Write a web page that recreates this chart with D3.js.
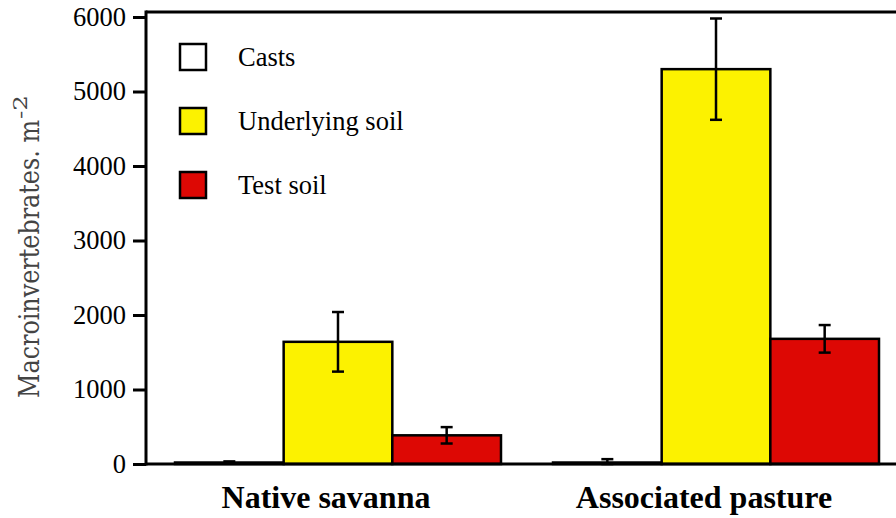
<!DOCTYPE html>
<html>
<head>
<meta charset="utf-8">
<script src="https://cdn.jsdelivr.net/npm/d3@7"></script>
<style>
  body { margin: 0; background: #fff; }
  svg { display: block; }
</style>
</head>
<body>
<svg id="canvas" width="896" height="518"></svg>
<script>
var groups = ["Native savanna", "Associated pasture"];
var series = ["Casts", "Underlying soil", "Test soil"];
var colors = ["#ffffff", "#fcf200", "#dd0804"];
// mean values, per group, in series order
var means = [
  [20, 1640, 385],
  [20, 5300, 1680]
];
var errors = [
  [15, 400, 110],
  [45, 680, 185]
];
var yTicks = [0, 1000, 2000, 3000, 4000, 5000, 6000];

var svg = d3.select("#canvas");
var serif = "'Liberation Serif', 'Times New Roman', serif";

var axisX = 146, axisY = 464, frameTop = 12;

var x0 = d3.scaleBand()
    .domain(groups)
    .range([axisX, 908])
    .paddingInner(0.1376)
    .paddingOuter(0.0767);

var x1 = d3.scaleBand()
    .domain(series)
    .range([0, x0.bandwidth()]);

var y = d3.scaleLinear()
    .domain([0, 6000])
    .range([axisY, 17]);

// bars
for (var g = 0; g < groups.length; g++) {
    var gx = x0(groups[g]);
    for (var s = 0; s < series.length; s++) {
        var v = means[g][s];
        var bx = gx + x1(series[s]);
        svg.append("rect")
            .attr("x", bx)
            .attr("y", y(v))
            .attr("width", x1.bandwidth())
            .attr("height", y(0) - y(v))
            .attr("fill", colors[s])
            .attr("stroke", "#000")
            .attr("stroke-width", 2.5);

        var cx = bx + x1.bandwidth() / 2;
        var e = errors[g][s];
        var eb = svg.append("g")
            .attr("stroke", "#000")
            .attr("stroke-width", 2.5);
        eb.append("line")
            .attr("x1", cx).attr("x2", cx)
            .attr("y1", y(v + e)).attr("y2", y(Math.max(0, v - e)));
        eb.append("line")
            .attr("x1", cx - 6).attr("x2", cx + 6)
            .attr("y1", y(v + e)).attr("y2", y(v + e));
        eb.append("line")
            .attr("x1", cx - 6).attr("x2", cx + 6)
            .attr("y1", y(Math.max(0, v - e))).attr("y2", y(Math.max(0, v - e)));
    }
}

// frame lines
svg.append("line")
    .attr("x1", axisX).attr("x2", 910)
    .attr("y1", frameTop).attr("y2", frameTop)
    .attr("stroke", "#000").attr("stroke-width", 3);
svg.append("line")
    .attr("x1", axisX).attr("x2", 910)
    .attr("y1", axisY).attr("y2", axisY)
    .attr("stroke", "#000").attr("stroke-width", 3);

// y axis
var yAxis = d3.axisLeft(y)
    .tickValues(yTicks)
    .tickSize(13)
    .tickPadding(7)
    .tickFormat(d3.format("d"));

var ya = svg.append("g")
    .attr("transform", "translate(" + axisX + ",0)")
    .call(yAxis);
ya.select(".domain").remove();
ya.selectAll(".tick line").attr("stroke", "#000").attr("stroke-width", 3);
ya.selectAll(".tick text")
    .attr("fill", "#000")
    .style("font-family", serif)
    .style("font-size", "26.5px");

svg.append("line")
    .attr("x1", axisX).attr("x2", axisX)
    .attr("y1", frameTop - 1.5).attr("y2", axisY + 1.5)
    .attr("stroke", "#000").attr("stroke-width", 3);

// y axis title
var title = svg.append("g")
    .attr("transform", "translate(39,0) rotate(-90)")
    .attr("fill", "#444")
    .style("font-family", "'DejaVu Serif', serif");
title.append("text")
    .attr("x", -398)
    .attr("y", 0)
    .attr("textLength", 278)
    .attr("lengthAdjust", "spacingAndGlyphs")
    .style("font-size", "27px")
    .text("Macroinvertebrates. m");
title.append("text")
    .attr("x", -119)
    .attr("y", -12)
    .attr("textLength", 24)
    .attr("lengthAdjust", "spacingAndGlyphs")
    .style("font-size", "19px")
    .text("-2");

// group labels
svg.selectAll(".glabel")
    .data(groups)
    .enter().append("text")
    .attr("class", "glabel")
    .attr("x", function (d) { return x0(d) + x0.bandwidth() / 2 - 12; })
    .attr("y", 508)
    .attr("text-anchor", "middle")
    .style("font-family", serif)
    .style("font-weight", "bold")
    .style("font-size", "32px")
    .text(function (d) { return d; });

// legend
var legend = svg.append("g").attr("transform", "translate(180,44)");
for (var i = 0; i < series.length; i++) {
    var row = legend.append("g").attr("transform", "translate(0," + (i * 64) + ")");
    row.append("rect")
        .attr("width", 26).attr("height", 26)
        .attr("fill", colors[i])
        .attr("stroke", "#000")
        .attr("stroke-width", 2.5);
    row.append("text")
        .attr("x", 58)
        .attr("y", 22)
        .style("font-family", serif)
        .style("font-size", "26.5px")
        .text(series[i]);
}
</script>
</body>
</html>
